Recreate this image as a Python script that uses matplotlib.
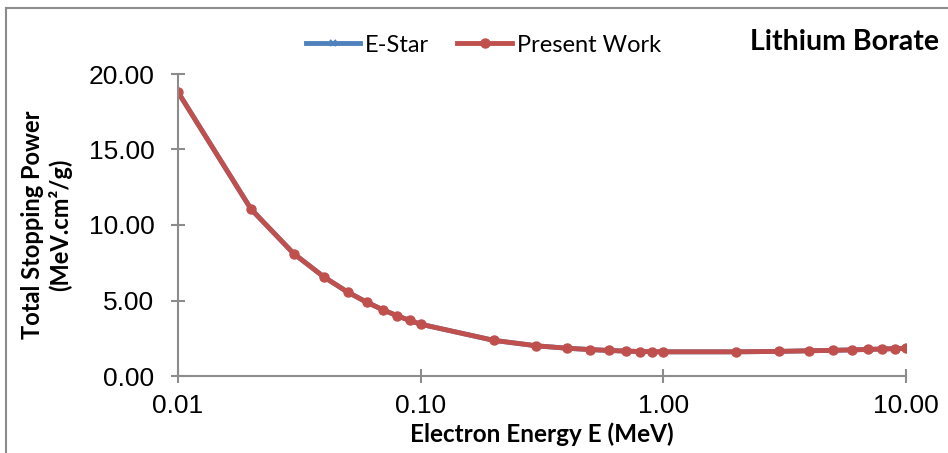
import numpy as np
import matplotlib.pyplot as plt
from matplotlib.lines import Line2D

# electron energy (MeV) and total stopping power (MeV.cm2/g)
energy = [0.01, 0.02, 0.03, 0.04, 0.05, 0.06, 0.07, 0.08, 0.09, 0.1,
          0.2, 0.3, 0.4, 0.5, 0.6, 0.7, 0.8, 0.9, 1.0,
          2.0, 3.0, 4.0, 5.0, 6.0, 7.0, 8.0, 9.0, 10.0]
estar = [18.80, 11.05, 8.10, 6.55, 5.56, 4.88, 4.38, 3.99, 3.68, 3.43,
         2.36, 2.00, 1.84, 1.75, 1.69, 1.65, 1.62, 1.61, 1.60,
         1.60, 1.63, 1.67, 1.70, 1.73, 1.76, 1.79, 1.81, 1.84]
present = [18.80, 11.05, 8.10, 6.55, 5.56, 4.88, 4.38, 3.99, 3.68, 3.43,
           2.36, 2.00, 1.84, 1.75, 1.69, 1.65, 1.62, 1.61, 1.60,
           1.60, 1.63, 1.67, 1.70, 1.73, 1.76, 1.79, 1.81, 1.84]

xticks = [0.01, 0.1, 1, 10]
yticks = [0, 5, 10, 15, 20]

fig = plt.figure(figsize=(9.48, 4.53), dpi=100)
ax = fig.add_axes([178/948, 1-376/453, (906-178)/948, (376-74)/453])

ax.plot(energy, estar, color='#4F81BD', lw=3.5, marker='x', ms=5, mew=1.5, label='E-Star')
ax.plot(energy, present, color='#C0504D', lw=3.5, marker='o', ms=6.5, label='Present Work')

ax.set_xscale('log')
ax.set_xlim(0.01, 10)
ax.set_ylim(0, 20)
ax.set_xticks(xticks)
ax.set_xticklabels(['%.2f' % v for v in xticks])
ax.minorticks_off()
ax.set_yticks(yticks)
ax.set_yticklabels(['%.2f' % v for v in yticks])

gray = '#8C8C8C'
for s in ['top', 'right']:
    ax.spines[s].set_visible(False)
for s in ['left', 'bottom']:
    ax.spines[s].set_color(gray)
    ax.spines[s].set_linewidth(1.5)
ax.tick_params(direction='inout', length=10, width=1.5, color=gray,
               labelsize=19, labelcolor='black')
ax.tick_params(axis='x', pad=8)
ax.tick_params(axis='y', pad=12)
for t in ax.get_xticklabels() + ax.get_yticklabels():
    t.set_family('Liberation Sans')

ax.set_xlabel('Electron Energy E (MeV)', fontsize=17.5, fontweight='bold',
              family='Lato', labelpad=3)
ax.set_ylabel('Total Stopping Power\n(MeV.cm²/g)', fontsize=17, fontweight='bold',
              family='Lato', labelpad=12, linespacing=1.2)

ax.legend(loc='center left', bbox_to_anchor=(306/948, 1-45/453), bbox_transform=fig.transFigure,
          ncol=2, frameon=False, prop={'family': 'Lato', 'size': 17},
          handlelength=2.3, handletextpad=0.2, columnspacing=1.2, borderaxespad=0,
          borderpad=0)

fig.text(939/948, 1-42/453, 'Lithium Borate', ha='right', va='center',
         fontsize=20.5, fontweight='bold', family='Lato')

# chart border
fig.add_artist(Line2D([6/948, 6/948], [0, 1-8/453], color=gray, lw=1.5))
fig.add_artist(Line2D([6/948, 1], [1-8/453, 1-8/453], color=gray, lw=1.5))

fig.savefig('out.png', dpi=100)
